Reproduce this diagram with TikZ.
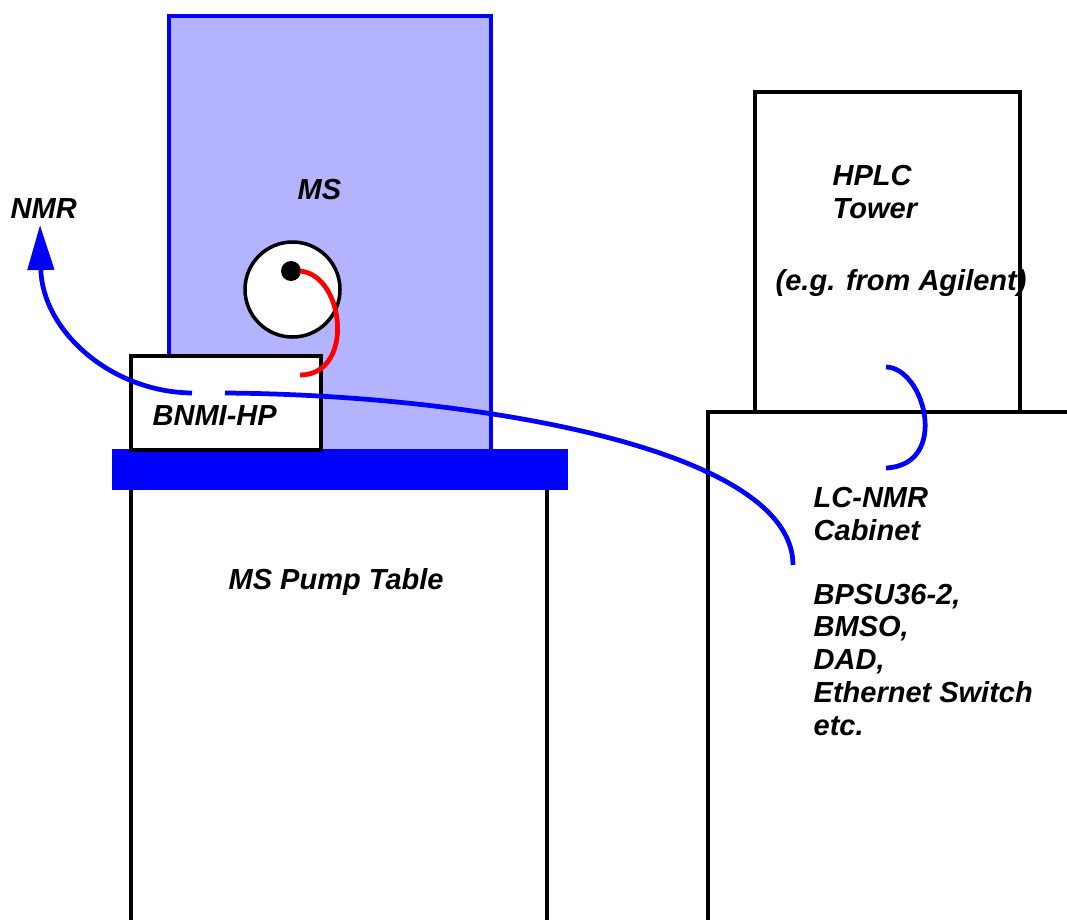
\documentclass[tikz,border=0pt]{standalone}
\usepackage{fontspec}
\setmainfont{Liberation Sans}
\usetikzlibrary{arrows.meta,positioning}
\definecolor{msblue}{HTML}{B3B3FF}
\definecolor{cable}{HTML}{0000FF}
\definecolor{fibre}{HTML}{FF0000}
\tikzset{
  housing/.style={draw=black, line width=1pt},
  cablerun/.style={draw=#1, line width=1.35pt},
  lbl/.style={font=\fontsize{8.25}{9.3}\selectfont\bfseries\itshape, align=left,
              inner sep=0pt, anchor=base west},
}

\begin{document}
\begin{tikzpicture}[x=0.1mm,y=-0.1mm]
  \useasboundingbox (0,0) rectangle (1067,920);
  % MS
  \draw[fill=msblue, draw=cable, line width=1pt] (169,16) rectangle (491,452);
  \draw[fill=white, housing] (292.5,289.5) circle (47.5);
  \fill[black] (291,271) circle (10);
  % pump table
  \fill[cable] (112,449) rectangle (568,490);
  \draw[housing] (131,920) -- (131,490);
  \draw[housing] (547,920) -- (547,490);
  \draw[fill=white, housing] (131,356) rectangle (321,450);
  % HPLC tower and cabinet
  \draw[housing] (755,412) -- (755,92) -- (1020,92) -- (1020,412);
  \draw[housing] (708,920) -- (708,412) -- (1067,412);

  % base anchor of a block = baseline of its last line
  \node[lbl] (nmr) at (10,218) {NMR};
  \node[lbl] (ms) at (297,199) {MS};
  \node[lbl] (bnmi) at (152,425) {BNMI-HP};
  \node[lbl] (pump) at (228,589) {MS Pump Table};
  \node[lbl] (hplc) at (832,218) {HPLC\\Tower};
  \node[lbl] (agilent) at (775,290) {(e.g. from Agilent)};
  \node[lbl] (lcnmr) at (813,540) {LC-NMR\\Cabinet};
  \node[lbl] (parts) at (813,735) {BPSU36-2,\\BMSO,\\DAD,\\Ethernet Switch\\etc.};

  % cables
  \coordinate (probe) at (300,271);
  \coordinate (probeend) at (300,375);
  \coordinate (bnmiL) at (192,393);
  \coordinate (bnmiR) at (225,393);
  \coordinate (nmrend) at (40,225);
  \coordinate (cabend) at (793,565);
  \coordinate (hplctop) at (886,367);
  \coordinate (hplcbot) at (886,468);
  \draw[cablerun=fibre] (probe) .. controls (345,275) and (355,375) .. (probeend);
  \draw[cablerun=cable, -{Triangle[length=4.5mm,width=2.6mm]}] (bnmiL) .. controls (110,392) and (42,330) .. (nmrend);
  \draw[cablerun=cable] (bnmiR) .. controls (480,395) and (793,450) .. (cabend);
  \draw[cablerun=cable] (hplctop) .. controls (925,368) and (950,465) .. (hplcbot);
\end{tikzpicture}
\end{document}
